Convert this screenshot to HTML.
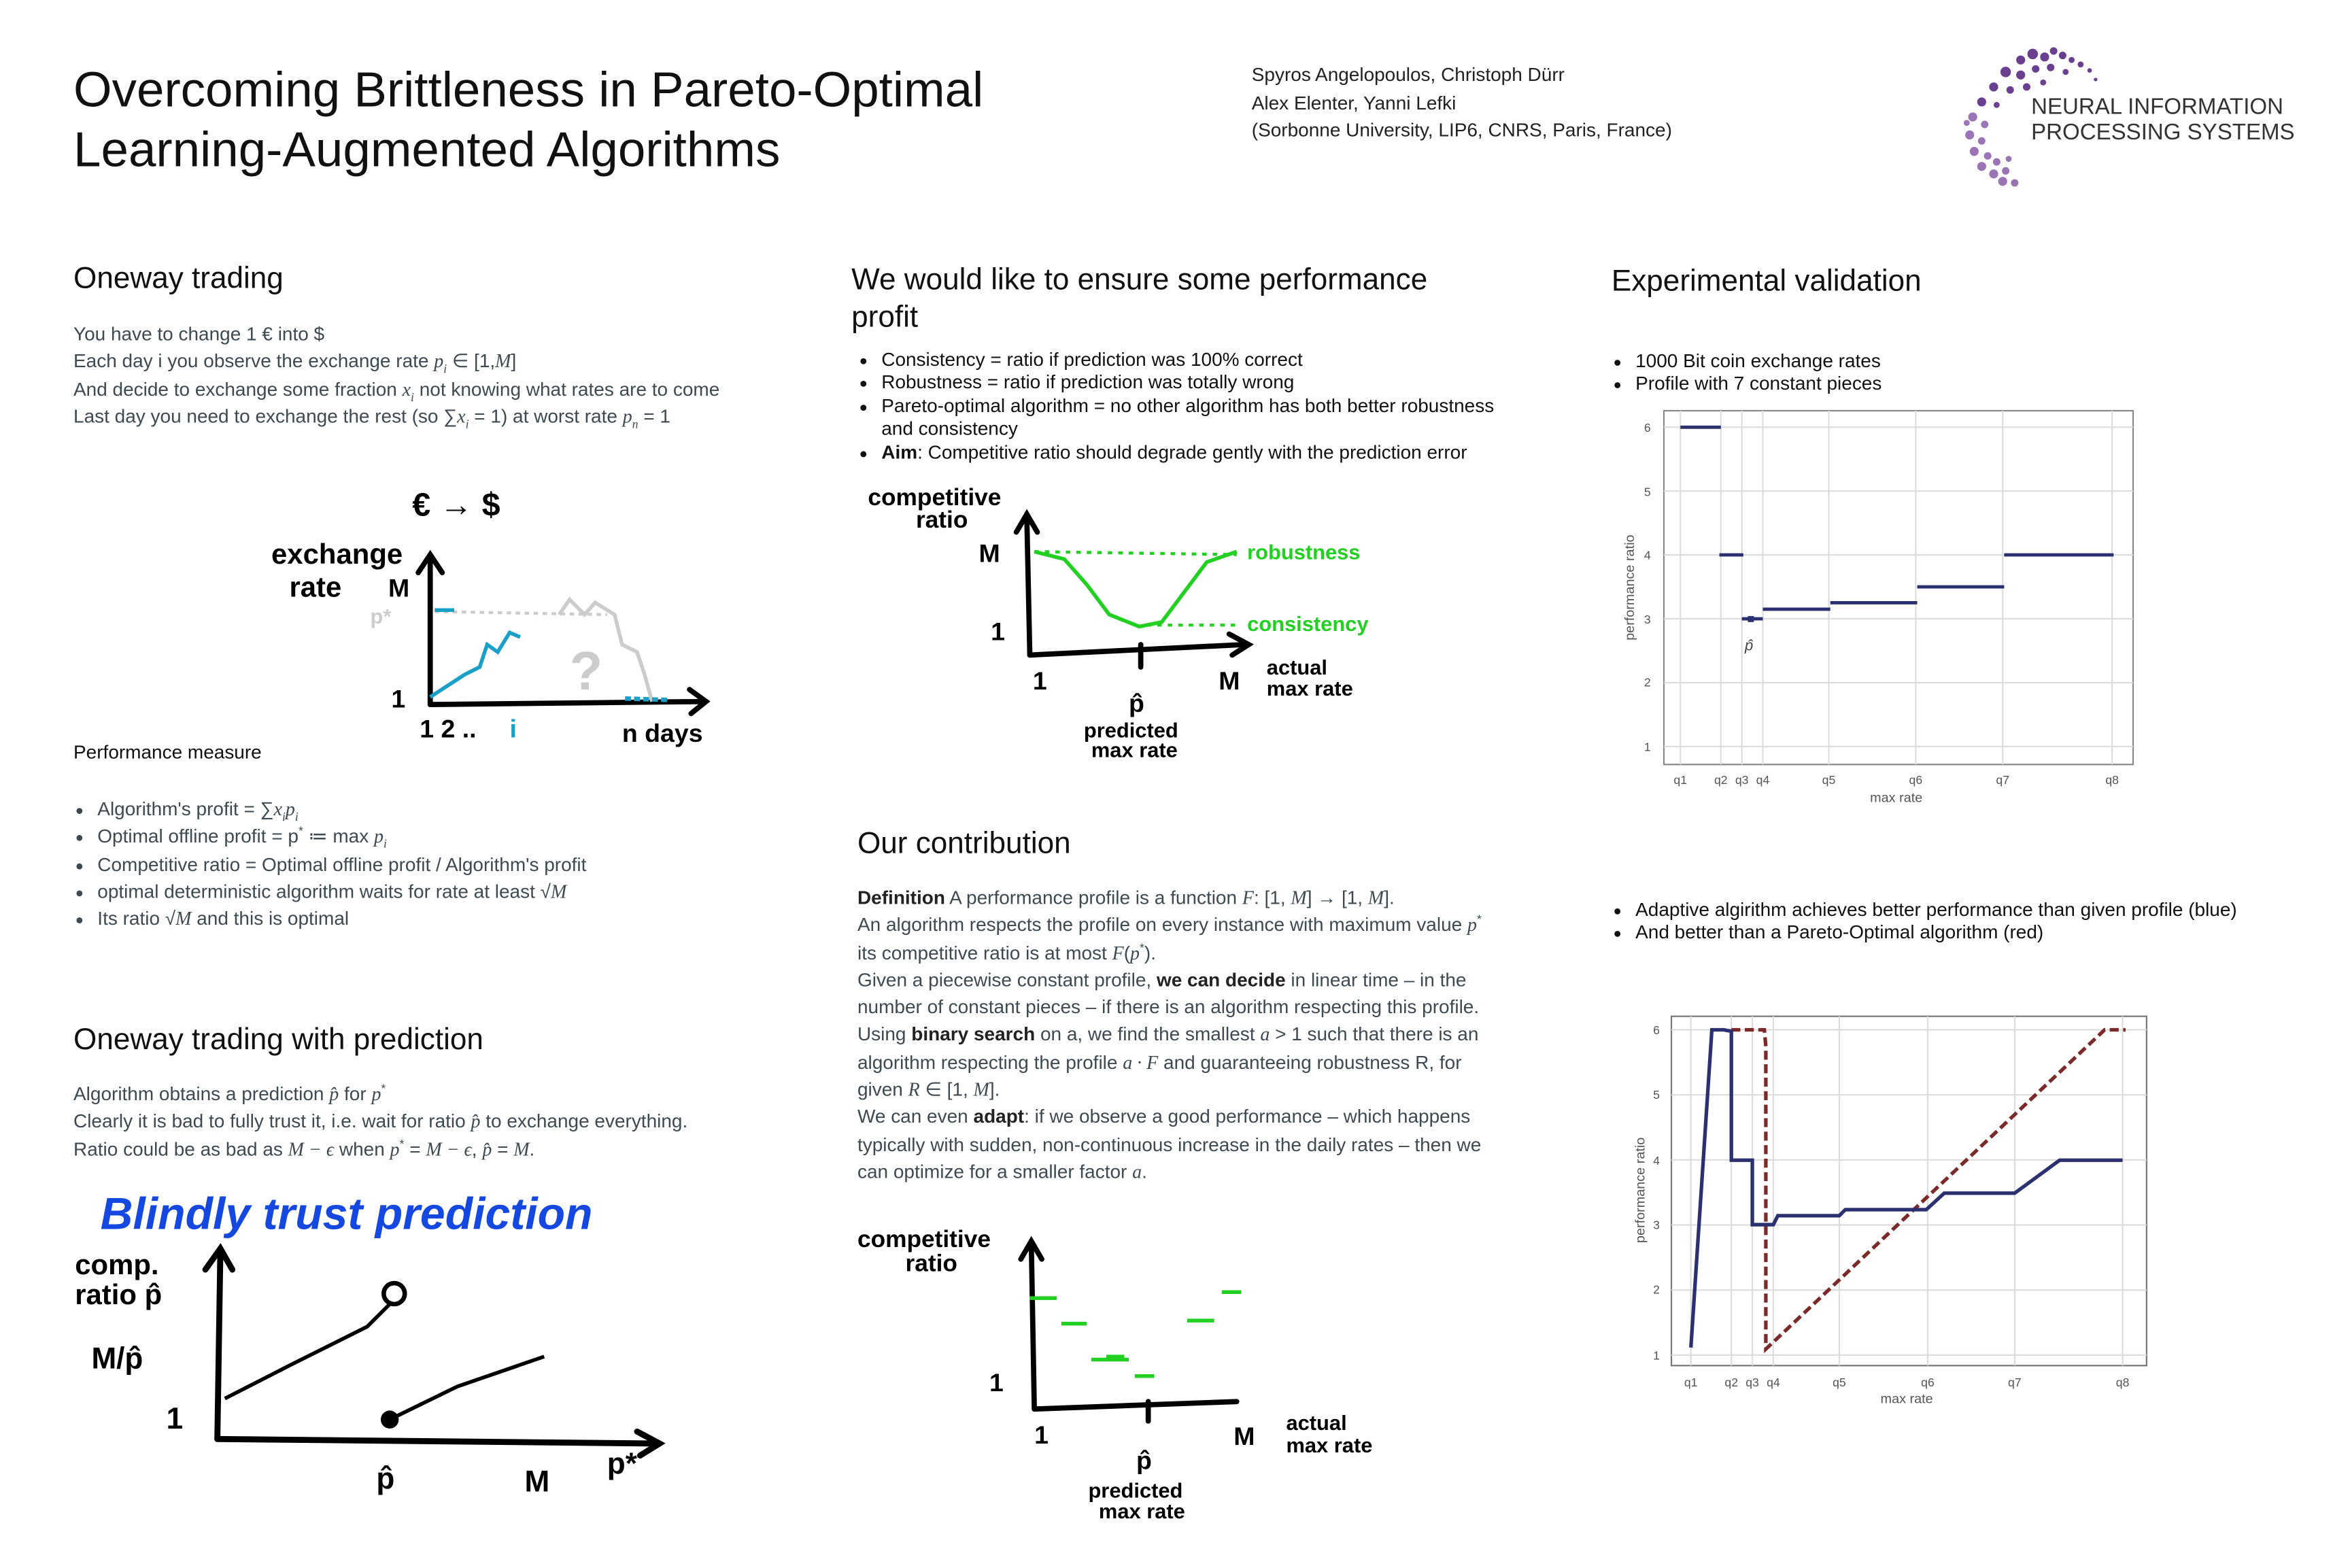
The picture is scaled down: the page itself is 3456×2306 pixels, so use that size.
<!DOCTYPE html>
<html><head><meta charset="utf-8"><style>
html,body{margin:0;padding:0;background:#fff;}
body{width:3456px;height:2304px;overflow:hidden;position:relative;}
#p{position:absolute;left:0;top:0;width:1568px;height:1046px;transform-origin:0 0;transform:scale(2.2045,2.2045);font-family:"Liberation Sans",sans-serif;color:#222;}
.a{position:absolute;white-space:nowrap;}
.h{font-size:20px;color:#111;}
.t{font-size:12.7px;color:#3d4a52;line-height:18.3px;}
.m{font-family:"Liberation Serif",serif;font-style:italic;}
sub,sup{line-height:0;font-size:8px;}
ul{margin:0;padding-left:16px;}
li{margin:0;}
</style></head><body><div id="p">

<div class="a" style="left:49px;top:40px;font-size:33px;line-height:40px;color:#111">Overcoming Brittleness in Pareto-Optimal<br>Learning-Augmented Algorithms</div>
<div class="a" style="left:835px;top:41px;font-size:12.7px;line-height:18.5px;color:#222">Spyros Angelopoulos, Christoph Dürr<br>Alex Elenter, Yanni Lefki<br>(Sorbonne University, LIP6, CNRS, Paris, France)</div>

<svg class="a" style="left:1308px;top:28px" width="240" height="100">
<g fill="#6a3f8f">
<circle cx="40" cy="12" r="3"/><circle cx="48" cy="8" r="3.5"/><circle cx="56" cy="10" r="3"/><circle cx="62" cy="6" r="2.5"/><circle cx="68" cy="9" r="2.5"/><circle cx="74" cy="12" r="2"/><circle cx="80" cy="15" r="2"/><circle cx="86" cy="19" r="1.5"/><circle cx="90" cy="25" r="1.2"/>
<circle cx="30" cy="20" r="3.5"/><circle cx="40" cy="22" r="3"/><circle cx="50" cy="18" r="2.5"/><circle cx="60" cy="17" r="2.5"/><circle cx="70" cy="20" r="2"/><circle cx="22" cy="30" r="3"/><circle cx="33" cy="32" r="2.5"/><circle cx="44" cy="30" r="2.5"/><circle cx="55" cy="27" r="2"/><circle cx="14" cy="40" r="3"/><circle cx="24" cy="42" r="2"/>
</g>
<g fill="#9a74b5">
<circle cx="8" cy="50" r="3"/><circle cx="16" cy="55" r="2.5"/><circle cx="6" cy="62" r="3"/><circle cx="14" cy="66" r="2.5"/><circle cx="9" cy="73" r="3"/><circle cx="18" cy="76" r="2.5"/><circle cx="14" cy="83" r="3"/><circle cx="24" cy="80" r="2.5"/><circle cx="22" cy="88" r="3"/><circle cx="30" cy="86" r="2.5"/><circle cx="28" cy="93" r="3"/><circle cx="36" cy="94" r="2.5"/><circle cx="4" cy="54" r="2"/><circle cx="32" cy="78" r="2"/>
</g>
<text x="47" y="48" font-family="Liberation Sans" font-size="15" fill="#333">NEURAL INFORMATION</text>
<text x="47" y="65" font-family="Liberation Sans" font-size="15" fill="#333">PROCESSING SYSTEMS</text>
</svg>

<!-- Column 1 -->
<div class="a h" style="left:49px;top:175px">Oneway trading</div>
<div class="a t" style="left:49px;top:214px">You have to change 1 € into $<br>Each day i you observe the exchange rate <span class="m">p<sub>i</sub></span> ∈ [1,<span class="m">M</span>]<br>And decide to exchange some fraction <span class="m">x<sub>i</sub></span> not knowing what rates are to come<br>Last day you need to exchange the rest (so ∑<span class="m">x<sub>i</sub></span> = 1) at worst rate <span class="m">p<sub>n</sub></span> = 1</div>

<svg class="a" style="left:175px;top:310px" width="320" height="205">
<g stroke="#000" stroke-width="3.5" fill="none" stroke-linecap="round">
<path d="M112 160 L112 62 M104 72 L112 60 L120 72"/>
<path d="M112 160 L295 158 M285 150 L296 158 L286 166"/>
</g>
<path d="M115 98 L230 100" stroke="#ccc" stroke-width="2" stroke-dasharray="3,3" fill="none"/>
<path d="M198 100 L205 90 L215 100 L222 92 L235 100 L240 120 L250 125 L255 140 L260 158" stroke="#ccc" stroke-width="2.5" fill="none"/>
<text x="205" y="150" font-size="36" font-weight="bold" fill="#ccc" font-family="Liberation Sans">?</text>
<path d="M112 155 L135 140 L145 135 L150 120 L157 125 L165 112 L172 115" stroke="#1aa0c8" stroke-width="2.5" fill="none"/>
<path d="M115 97 L128 97" stroke="#1aa0c8" stroke-width="2.5"/>
<path d="M242 156 L272 157" stroke="#1aa0c8" stroke-width="3" stroke-dasharray="4,2"/>
<text x="100" y="34" font-size="22" font-weight="bold" font-family="Liberation Sans">€ → $</text>
<text x="6" y="66" font-size="19" font-weight="bold" font-family="Liberation Sans">exchange</text>
<text x="18" y="88" font-size="19" font-weight="bold" font-family="Liberation Sans">rate</text>
<text x="84" y="88" font-size="17" font-weight="bold" font-family="Liberation Sans">M</text>
<text x="72" y="106" font-size="14" font-weight="bold" fill="#ccc" font-family="Liberation Sans">p*</text>
<text x="86" y="162" font-size="17" font-weight="bold" font-family="Liberation Sans">1</text>
<text x="105" y="182" font-size="17" font-weight="bold" font-family="Liberation Sans">1  2  ..</text>
<text x="165" y="182" font-size="17" font-weight="bold" fill="#1aa0c8" font-family="Liberation Sans">i</text>
<text x="240" y="185" font-size="17" font-weight="bold" font-family="Liberation Sans">n  days</text>
</svg>

<div class="a t" style="left:49px;top:493px;color:#111">Performance measure</div>
<div class="a t" style="left:49px;top:531px"><ul>
<li>Algorithm's profit = ∑<span class="m">x<sub>i</sub>p<sub>i</sub></span></li>
<li>Optimal offline profit = p<sup>*</sup> ≔ max <span class="m">p<sub>i</sub></span></li>
<li>Competitive ratio = Optimal offline profit / Algorithm's profit</li>
<li>optimal deterministic algorithm waits for rate at least √<span class="m">M</span></li>
<li>Its ratio √<span class="m">M</span> and this is optimal</li></ul></div>

<div class="a h" style="left:49px;top:683px">Oneway trading with prediction</div>
<div class="a t" style="left:49px;top:721px">Algorithm obtains a prediction <span class="m">p̂</span> for <span class="m">p</span><sup>*</sup><br>Clearly it is bad to fully trust it, i.e. wait for ratio <span class="m">p̂</span> to exchange everything.<br>Ratio could be as bad as <span class="m">M − ϵ</span> when <span class="m">p</span><sup>*</sup> = <span class="m">M − ϵ</span>, <span class="m">p̂</span> = <span class="m">M</span>.</div>

<svg class="a" style="left:45px;top:785px" width="410" height="220">
<text x="22" y="35" font-size="30" font-weight="bold" fill="#1548e0" font-family="Liberation Sans" font-style="italic">Blindly trust prediction</text>
<g stroke="#000" stroke-width="4" fill="none" stroke-linecap="round">
<path d="M100 175 L102 50 M92 62 L102 48 L110 62"/>
<path d="M100 175 L392 178 M380 170 L395 178 L382 186"/>
</g>
<path d="M105 148 L150 125 L200 100 L218 82" stroke="#000" stroke-width="2.5" fill="none"/>
<circle cx="218" cy="78" r="7" stroke="#000" stroke-width="3" fill="#fff"/>
<circle cx="215" cy="162" r="6" fill="#000"/>
<path d="M215 162 L260 140 L318 120" stroke="#000" stroke-width="2.5" fill="none"/>
<text x="5" y="65" font-size="19" font-weight="bold" font-family="Liberation Sans">comp.</text>
<text x="5" y="85" font-size="19" font-weight="bold" font-family="Liberation Sans">ratio p̂</text>
<text x="16" y="128" font-size="20" font-weight="bold" font-family="Liberation Sans">M/p̂</text>
<text x="66" y="168" font-size="20" font-weight="bold" font-family="Liberation Sans">1</text>
<text x="206" y="208" font-size="20" font-weight="bold" font-family="Liberation Sans">p̂</text>
<text x="305" y="210" font-size="20" font-weight="bold" font-family="Liberation Sans">M</text>
<text x="360" y="198" font-size="20" font-weight="bold" font-family="Liberation Sans">p*</text>
</svg>

<!-- Column 2 -->
<div class="a h" style="left:568px;top:175px;line-height:25px">We would like to ensure some performance<br>profit</div>
<div class="a t" style="left:572px;top:233px;color:#111;line-height:15.4px"><ul>
<li>Consistency = ratio if prediction was 100% correct</li>
<li>Robustness = ratio if prediction was totally wrong</li>
<li>Pareto-optimal algorithm = no other algorithm has both better robustness<br>and consistency</li>
<li><b>Aim</b>: Competitive ratio should degrade gently with the prediction error</li></ul></div>

<svg class="a" style="left:575px;top:315px" width="340" height="200">
<g stroke="#000" stroke-width="3.5" fill="none" stroke-linecap="round">
<path d="M112 122 L110 30 M103 40 L110 28 L117 40"/>
<path d="M112 122 L255 115 M245 108 L258 115 L247 122"/>
<path d="M186 115 L186 130"/>
</g>
<path d="M115 53 L250 55" stroke="#22d022" stroke-width="2" stroke-dasharray="3,4" fill="none"/>
<path d="M115 53 L135 58 L150 75 L165 95 L185 103 L200 100 L215 80 L230 60 L250 53" stroke="#22d022" stroke-width="2.5" fill="none"/>
<path d="M190 102 L250 102" stroke="#22d022" stroke-width="2" stroke-dasharray="3,4" fill="none"/>
<text x="257" y="58" font-size="14" font-weight="bold" fill="#22d022" font-family="Liberation Sans">robustness</text>
<text x="257" y="106" font-size="14" font-weight="bold" fill="#22d022" font-family="Liberation Sans">consistency</text>
<text x="4" y="22" font-size="16" font-weight="bold" font-family="Liberation Sans">competitive</text>
<text x="36" y="37" font-size="16" font-weight="bold" font-family="Liberation Sans">ratio</text>
<text x="78" y="60" font-size="17" font-weight="bold" font-family="Liberation Sans">M</text>
<text x="86" y="112" font-size="17" font-weight="bold" font-family="Liberation Sans">1</text>
<text x="114" y="145" font-size="17" font-weight="bold" font-family="Liberation Sans">1</text>
<text x="178" y="160" font-size="17" font-weight="bold" font-family="Liberation Sans">p̂</text>
<text x="238" y="145" font-size="17" font-weight="bold" font-family="Liberation Sans">M</text>
<text x="270" y="135" font-size="14" font-weight="bold" font-family="Liberation Sans">actual</text>
<text x="270" y="149" font-size="14" font-weight="bold" font-family="Liberation Sans">max rate</text>
<text x="148" y="177" font-size="14" font-weight="bold" font-family="Liberation Sans">predicted</text>
<text x="153" y="190" font-size="14" font-weight="bold" font-family="Liberation Sans">max rate</text>
</svg>

<div class="a h" style="left:572px;top:552px">Our contribution</div>
<div class="a t" style="left:572px;top:590px"><b style="color:#222">Definition</b> A performance profile is a function <span class="m">F</span>: [1, <span class="m">M</span>] → [1, <span class="m">M</span>].<br>An algorithm respects the profile on every instance with maximum value <span class="m">p</span><sup>*</sup><br>its competitive ratio is at most <span class="m">F</span>(<span class="m">p</span><sup>*</sup>).<br>Given a piecewise constant profile, <b style="color:#222">we can decide</b> in linear time – in the<br>number of constant pieces – if there is an algorithm respecting this profile.<br>Using <b style="color:#222">binary search</b> on a, we find the smallest <span class="m">a</span> &gt; 1 such that there is an<br>algorithm respecting the profile <span class="m">a · F</span> and guaranteeing robustness R, for<br>given <span class="m">R</span> ∈ [1, <span class="m">M</span>].<br>We can even <b style="color:#222">adapt</b>: if we observe a good performance – which happens<br>typically with sudden, non-continuous increase in the daily rates – then we<br>can optimize for a smaller factor <span class="m">a</span>.</div>

<svg class="a" style="left:570px;top:810px" width="350" height="210">
<g stroke="#000" stroke-width="3.5" fill="none" stroke-linecap="round">
<path d="M120 130 L118 20 M111 30 L118 18 L125 30"/>
<path d="M120 130 L255 125"/>
<path d="M196 125 L196 138"/>
</g>
<g stroke="#22d022" stroke-width="2.5">
<path d="M117 56 L135 56"/><path d="M138 73 L155 73"/><path d="M158 97 L183 97"/><path d="M187 108 L200 108"/><path d="M222 71 L240 71"/><path d="M245 52 L258 52"/><path d="M168 95 L180 95"/>
</g>
<text x="2" y="22" font-size="16" font-weight="bold" font-family="Liberation Sans">competitive</text>
<text x="34" y="38" font-size="16" font-weight="bold" font-family="Liberation Sans">ratio</text>
<text x="90" y="118" font-size="17" font-weight="bold" font-family="Liberation Sans">1</text>
<text x="120" y="153" font-size="17" font-weight="bold" font-family="Liberation Sans">1</text>
<text x="188" y="170" font-size="17" font-weight="bold" font-family="Liberation Sans">p̂</text>
<text x="253" y="154" font-size="17" font-weight="bold" font-family="Liberation Sans">M</text>
<text x="288" y="144" font-size="14" font-weight="bold" font-family="Liberation Sans">actual</text>
<text x="288" y="159" font-size="14" font-weight="bold" font-family="Liberation Sans">max rate</text>
<text x="156" y="189" font-size="14" font-weight="bold" font-family="Liberation Sans">predicted</text>
<text x="163" y="203" font-size="14" font-weight="bold" font-family="Liberation Sans">max rate</text>
</svg>

<!-- Column 3 -->
<div class="a h" style="left:1075px;top:177px">Experimental validation</div>
<div class="a t" style="left:1075px;top:234px;color:#111;line-height:15.4px"><ul><li>1000 Bit coin exchange rates</li><li>Profile with 7 constant pieces</li></ul></div>

<svg class="a" style="left:1075px;top:265px" width="360" height="280" font-family="Liberation Sans">
<rect x="35" y="9" width="313" height="236" fill="#fff" stroke="#888" stroke-width="1"/>
<g stroke="#ddd" stroke-width="1">
<path d="M35 20H348M35 62.6H348M35 105.2H348M35 147.8H348M35 190.4H348M35 233H348"/>
<path d="M46 9V245M73 9V245M87 9V245M101 9V245M145 9V245M203 9V245M261 9V245M334 9V245"/>
</g>
<g font-size="8" fill="#555" text-anchor="middle">
<text x="24" y="23">6</text><text x="24" y="66">5</text><text x="24" y="108">4</text><text x="24" y="151">3</text><text x="24" y="193">2</text><text x="24" y="236">1</text>
<text x="46" y="258">q1</text><text x="73" y="258">q2</text><text x="87" y="258">q3</text><text x="101" y="258">q4</text><text x="145" y="258">q5</text><text x="203" y="258">q6</text><text x="261" y="258">q7</text><text x="334" y="258">q8</text>
<text x="190" y="270" font-size="9">max rate</text>
<text transform="translate(15,127) rotate(-90)" font-size="9">performance ratio</text>
</g>
<g stroke="#2b3070" stroke-width="2.2">
<path d="M46 20H73M72 105.2H88M87 147.8H101M101 141.4H146M146 137.1H204M204 126.5H262M262 105.2H335"/>
</g>
<path d="M93 146 L93 150" stroke="#2b3070" stroke-width="4"/>
<text x="89" y="169" font-size="10" font-style="italic" fill="#444">p̂</text>
</svg>

<div class="a t" style="left:1075px;top:600px;color:#111;line-height:15.4px"><ul><li>Adaptive algirithm achieves better performance than given profile (blue)</li><li>And better than a Pareto-Optimal algorithm (red)</li></ul></div>

<svg class="a" style="left:1080px;top:670px" width="360" height="275" font-family="Liberation Sans">
<rect x="35" y="8" width="317" height="233" fill="#fff" stroke="#777" stroke-width="1"/>
<g stroke="#ddd" stroke-width="1">
<path d="M35 17H352M35 60.4H352M35 103.8H352M35 147.2H352M35 190.6H352M35 234H352"/>
<path d="M48 8V241M75 8V241M89 8V241M103 8V241M147 8V241M206 8V241M264 8V241M336 8V241"/>
</g>
<g font-size="8" fill="#555" text-anchor="middle">
<text x="25" y="20">6</text><text x="25" y="63">5</text><text x="25" y="107">4</text><text x="25" y="150">3</text><text x="25" y="193">2</text><text x="25" y="237">1</text>
<text x="48" y="255">q1</text><text x="75" y="255">q2</text><text x="89" y="255">q3</text><text x="103" y="255">q4</text><text x="147" y="255">q5</text><text x="206" y="255">q6</text><text x="264" y="255">q7</text><text x="336" y="255">q8</text>
<text x="192" y="266" font-size="9">max rate</text>
<text transform="translate(17,124) rotate(-90)" font-size="9">performance ratio</text>
</g>
<path d="M75 17 L97 17 L98 28 L98 230 L324 17 L338 17" stroke="#7b2a2a" stroke-width="2.4" fill="none" stroke-dasharray="6,3"/>
<path d="M48 229 L62 17 L70 17 L75 18 L75 104 L89 104 L89 147 L103 147 L106 141 L147 141 L151 137 L205 137 L217 126 L264 126 L294 104 L336 104" stroke="#2b3070" stroke-width="2.4" fill="none"/>
</svg>

</div></body></html>
